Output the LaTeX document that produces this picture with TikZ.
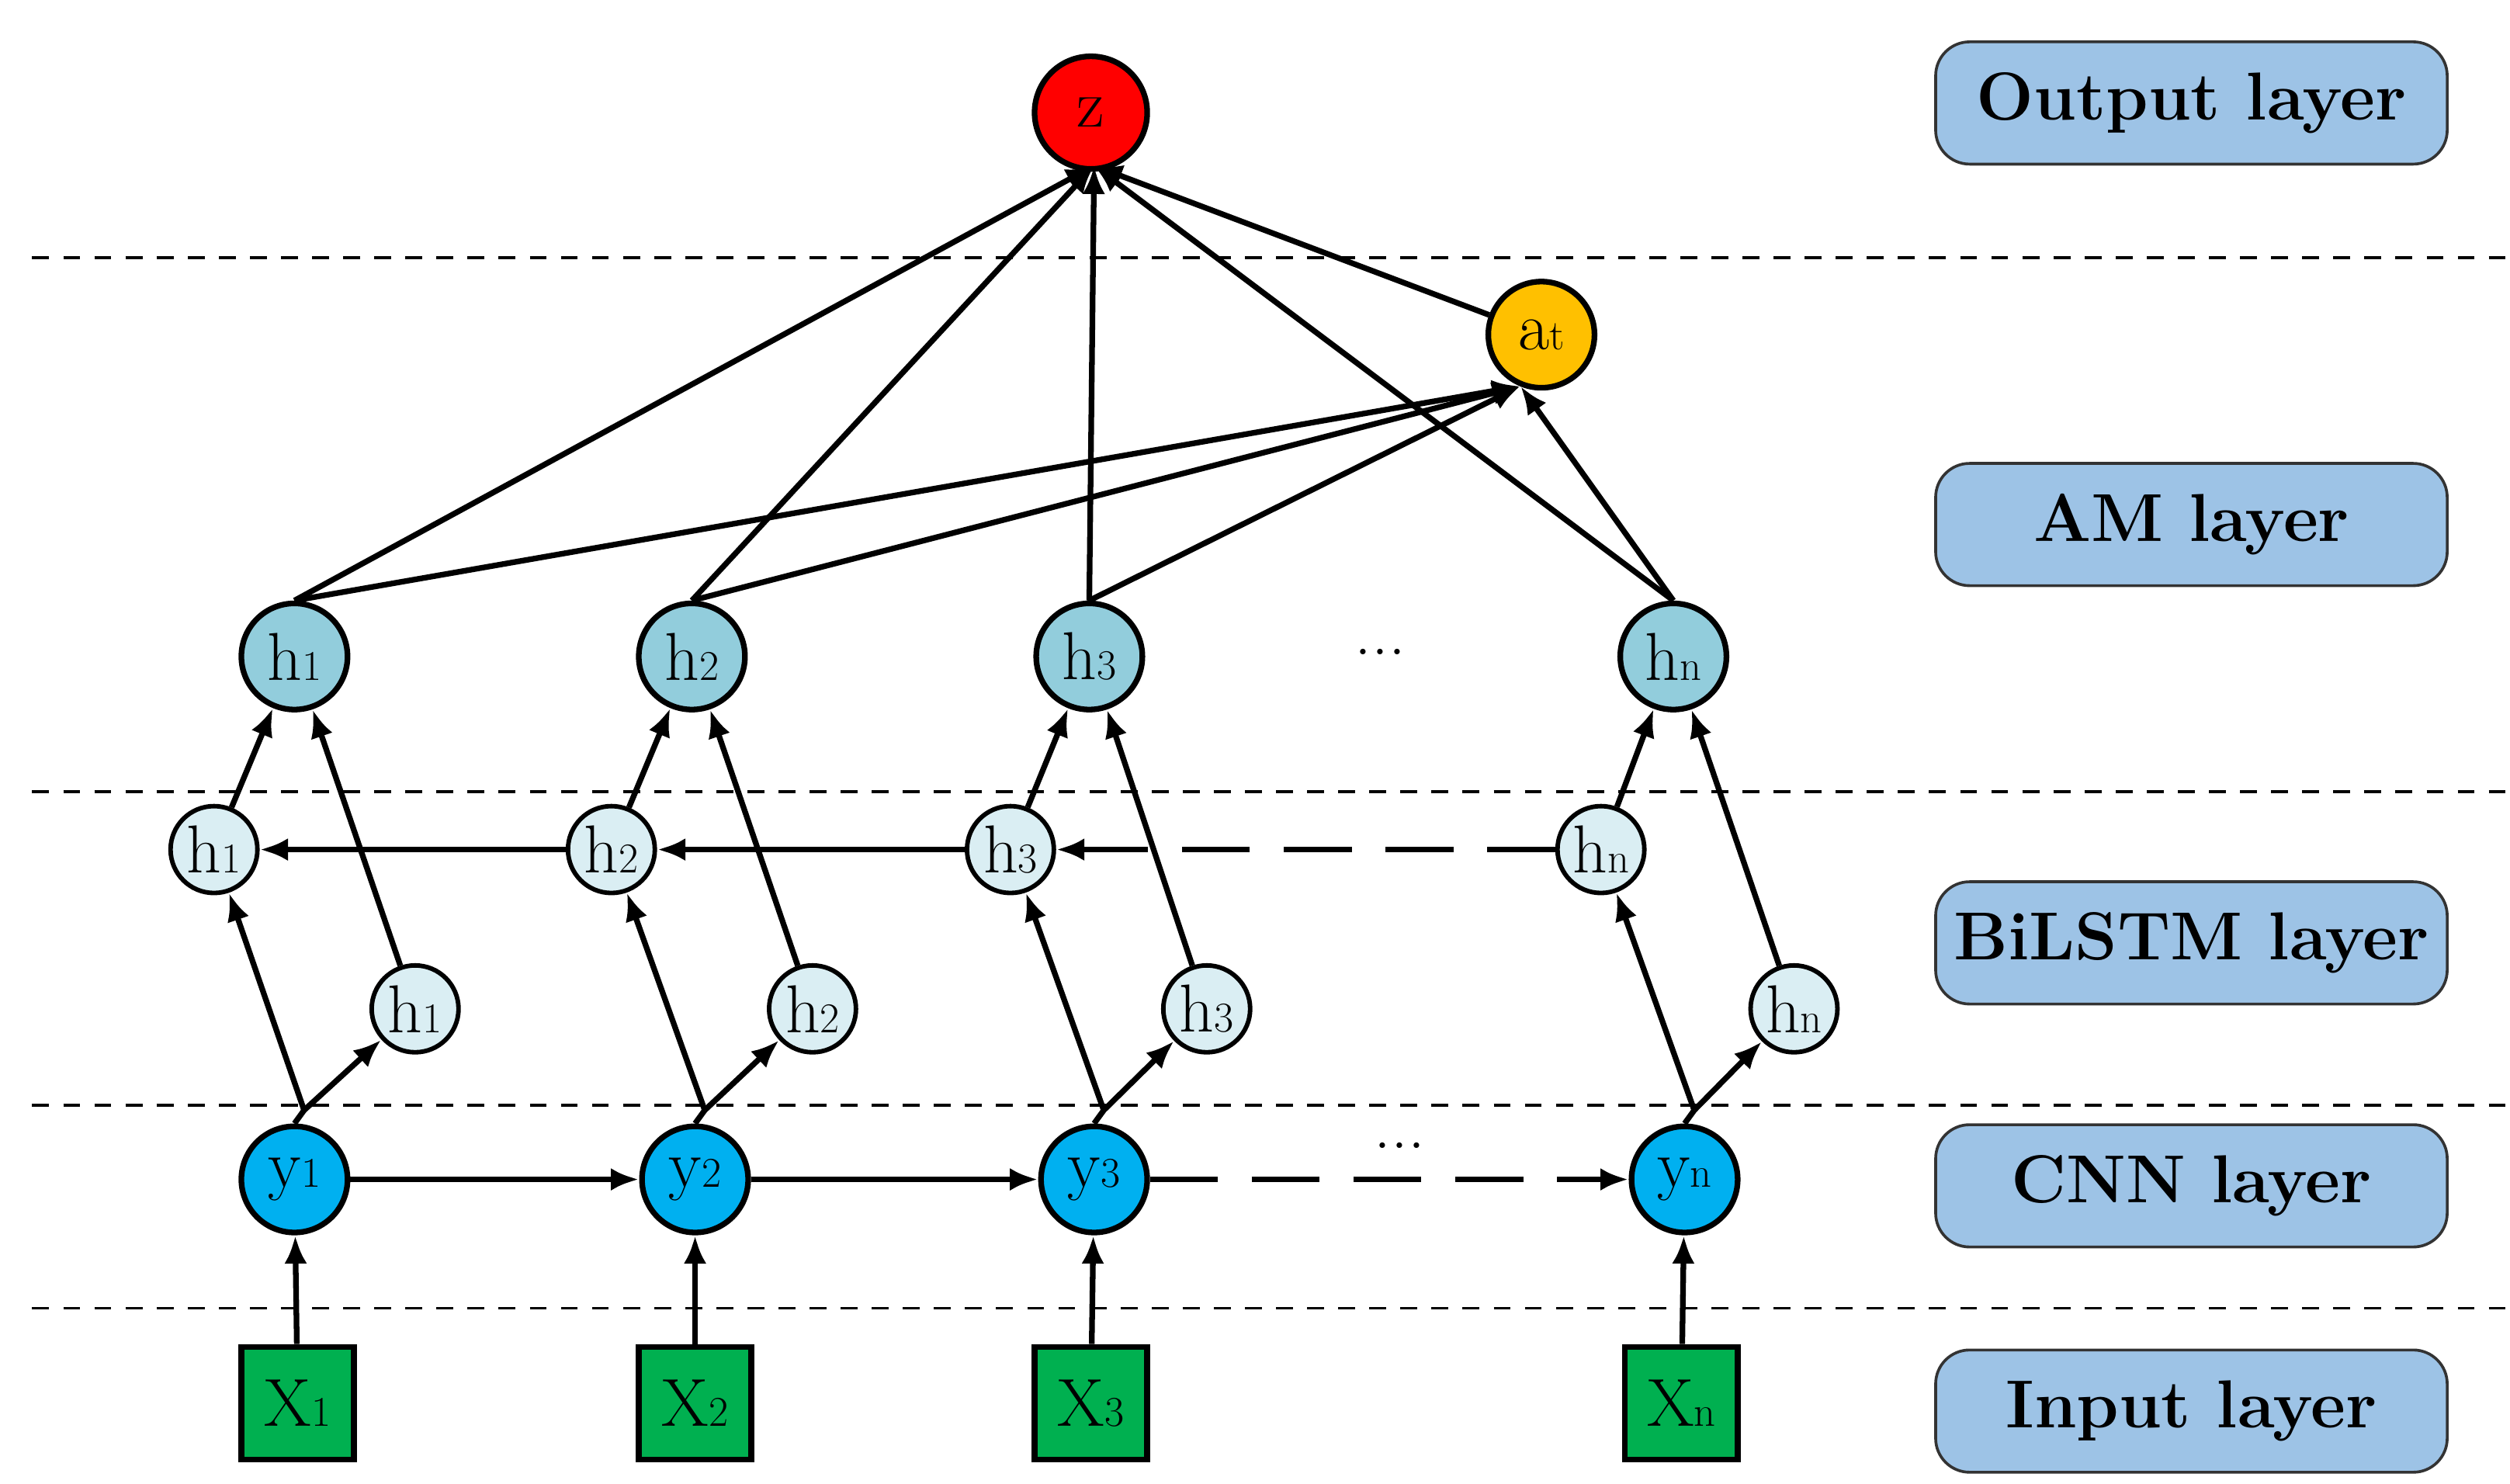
\documentclass[tikz,border=0pt]{standalone}
\usetikzlibrary{arrows.meta}
\begin{document}
\begin{tikzpicture}[x=0.02cm,y=-0.02cm,
 every node/.style={font=\fontsize{24}{26}\selectfont},
 ar/.style={line width=2pt,-{Latex[length=10pt,width=8pt]}},
 big/.style={circle,draw,line width=2pt,inner sep=0pt,minimum size=1.32cm},
 sm/.style={circle,draw,line width=1.6pt,inner sep=0pt,minimum size=1.08cm,fill=hsm},
 lab/.style={draw=black!80,line width=1pt,rounded corners=12pt,fill=labc,minimum width=6.36cm,minimum height=1.52cm,font=\fontsize{24}{26}\selectfont\bfseries},
 dl/.style={dashed,line width=1pt,dash pattern=on 6pt off 5pt}]
\definecolor{hsm}{HTML}{DAEEF3}
\definecolor{htop}{HTML}{92CDDC}
\definecolor{yb}{HTML}{00B0F0}
\definecolor{xg}{HTML}{00B050}
\definecolor{labc}{HTML}{9DC3E6}
\definecolor{oc}{HTML}{FFC000}
\useasboundingbox (0,0) rectangle (1560,922);
\newcommand{\sub}[2]{#1{\fontsize{15}{16}\selectfont #2}}
\foreach \yy in {160,492,687,813} \draw[dl] (20,\yy) -- (1560,\yy);
\node[lab] (L1) at (1362,64) {Output layer};
\node[lab] (L2) at (1362,326) {AM layer};
\node[lab] (L3) at (1362,586) {BiLSTM layer};
\node[lab] (L4) at (1362,737) {CNN layer};
\node[lab] (L5) at (1362,877) {Input layer};
\node[big,fill=red,minimum size=1.4cm] (z) at (678,70) {z};
\coordinate (zb) at (680,103);
\node[big,fill=oc] (a) at (958,208) {\sub{a}{t}};
\coordinate (ab) at (945,240);
\foreach \i/\x/\s in {1/183/1,2/430/2,3/677/3,n/1040/n}{
 \node[big,fill=htop] (h\i) at (\x,408) {\sub{h}{\s}};}
\node at (858,405) {...};
\foreach \i/\x in {1/133,2/380,3/628,n/995}{
 \node[sm] (b\i) at (\x,528) {\sub{h}{\i}};}
\foreach \i/\x in {1/258,2/505,3/750,n/1115}{
 \node[sm] (f\i) at (\x,627) {\sub{h}{\i}};}
\foreach \i/\x in {1/183,2/432,3/680,n/1047}{
 \node[big,fill=yb] (y\i) at (\x,733) {\sub{y}{\i}};
 \coordinate (yt\i) at (\x+6,690);}
\foreach \i/\x in {1/185,2/432,3/678,n/1045}{
 \node[draw,line width=2pt,fill=xg,minimum size=1.4cm,inner sep=0pt] (x\i) at (\x,872) {\sub{X}{\i}};
 \draw[ar] (x\i) -- (y\i);}
\draw[ar] (y1)--(y2); \draw[ar] (y2)--(y3);
\draw[ar,dash pattern=on 24pt off 12pt] (y3)--(yn);
\node at (870,712) {...};
\draw[ar,dash pattern=on 24pt off 12pt] (bn)--(b3);
\draw[ar] (b3)--(b2); \draw[ar] (b2)--(b1);
\foreach \i in {1,2,3,n}{
 \draw[line width=2pt] (y\i.north) -- (yt\i);
 \draw[ar] (yt\i) -- (b\i);
 \draw[ar] (yt\i) -- (f\i);
 \draw[ar] (b\i) -- (h\i);
 \draw[ar] (f\i) -- (h\i);
 \draw[ar] (h\i.north) -- (zb);
 \draw[ar] (h\i.north) -- (ab);}
\draw[ar] (a) -- (zb);
\end{tikzpicture}
\end{document}
